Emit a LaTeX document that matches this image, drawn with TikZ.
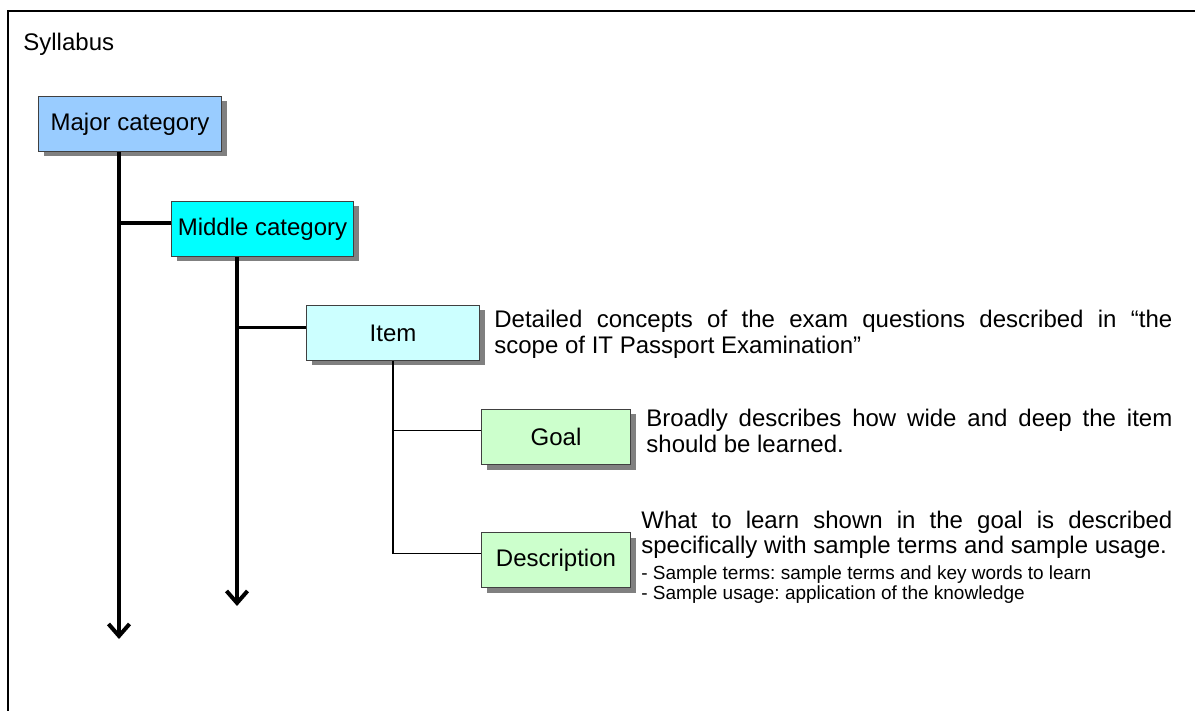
\documentclass[tikz,border=0pt]{standalone}
\usepackage{fontspec}
\setmainfont{Liberation Sans}
\usetikzlibrary{arrows.meta, positioning, shadows}
\usepackage{xcolor}

\definecolor{majorblue}{HTML}{99CCFF}
\definecolor{middlecyan}{HTML}{00FFFF}
\definecolor{itemcyan}{HTML}{CCFFFF}
\definecolor{goalgreen}{HTML}{CCFFCC}
\definecolor{boxshadow}{HTML}{808080}

\frenchspacing

\begin{document}
\begin{tikzpicture}[x = 0.5pt, y = -0.5pt, >={Straight Barb[length=6pt, width=10.5pt]}, font = \fontsize{12}{13}\selectfont]
	\tikzstyle{box} = [rectangle, draw=black!75, line width=0.5pt, anchor=north west, minimum height=27.5pt, inner sep=0pt, drop shadow={shadow xshift=2.5pt, shadow yshift=-2.5pt, fill=boxshadow, opacity=1}]
	\tikzstyle{note} = [anchor=base west, inner sep=0pt, align=justify]
	\tikzstyle{trunk} = [line width=2pt]
	\tikzstyle{twig} = [line width=0.8pt]

	\clip (0, 0) rectangle (1195, 711);
	\draw[line width=1pt] (8, 11) rectangle (1240, 760);

	\node[anchor=base west, inner sep=0pt]	at (23, 51)		(syllabus)	{Syllabus};

	\node[box, fill=majorblue, minimum width=91.5pt]	at (38, 96)		(major)		{Major category};
	\node[box, fill=middlecyan, minimum width=91pt]		at (171, 201)	(middle)	{Middle category};
	\node[box, fill=itemcyan, minimum width=86.5pt]		at (306, 305)	(item)		{Item};
	\node[box, fill=goalgreen, minimum width=74.5pt]	at (481, 409)	(goal)		{Goal};
	\node[box, fill=goalgreen, minimum width=74.5pt]	at (481, 532)	(descr)		{Description};

	\node[note, text width=339pt]	at (494, 328)	(itemnote)	{Detailed concepts of the exam questions described in “the\linebreak scope of IT Passport Examination”};
	\node[note, text width=263pt]	at (646, 427)	(goalnote)	{Broadly describes how wide and deep the item\linebreak should be learned.};
	\node[note, text width=265.5pt]	at (641, 528)	(descrnote)	{What to learn shown in the goal is described\linebreak specifically with sample terms and sample usage.\par
		{\fontsize{9.5}{10.5}\selectfont\vspace{2pt}- Sample terms: sample terms and key words to learn\par
		- Sample usage: application of the knowledge\par}};

	% ends of the two long arrows
	\coordinate (majorend)	at (119, 639);
	\coordinate (middleend)	at (237, 606);

	\draw[trunk, ->] (majorend |- major.south) -- (majorend);
	\draw[trunk] ([yshift=3pt]middle.west) -- ([yshift=3pt]middle.west -| majorend);
	\draw[trunk, ->] (middleend |- middle.south) -- (middleend);
	\draw[line width=1.3pt] ([yshift=2.75pt]item.west) -- ([yshift=2.75pt]item.west -| middleend);
	\draw[twig] (item.south) |- ([yshift=3.25pt]descr.west);
	\draw[twig] ([yshift=3.25pt]goal.west) -- ([yshift=3.25pt]goal.west -| item.south);
\end{tikzpicture}
\end{document}
